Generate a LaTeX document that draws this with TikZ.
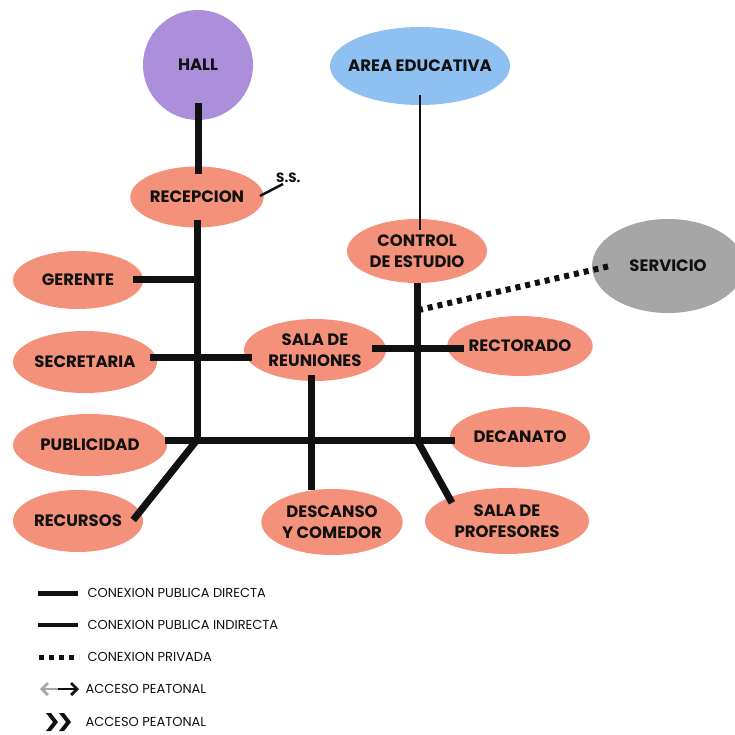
\documentclass[tikz,border=0pt]{standalone}
\usepackage{fontspec}
\setmainfont{Poppins}
\usetikzlibrary{calc,arrows.meta,shapes.geometric}
\definecolor{salmon}{HTML}{F4917A}
\definecolor{lila}{HTML}{AC8FDB}
\definecolor{celeste}{HTML}{8EC0F2}
\definecolor{gris}{HTML}{A6A6A6}
\definecolor{tinta}{HTML}{111111}

\begin{document}
\begin{tikzpicture}[x=1pt,y=1pt,
    espacio/.style={ellipse, fill=salmon, inner sep=0pt, align=center, text=tinta,
        font=\fontsize{16.5}{21}\selectfont\bfseries},
    directa/.style={line width=7pt, tinta},
    indirecta/.style={line width=2pt, tinta},
    privada/.style={line width=6pt, tinta, dash pattern=on 5pt off 5pt},
    leyenda/.style={anchor=west, text=tinta, font=\fontsize{13}{14}\selectfont}]
    % Marco de la figura
    \useasboundingbox (0,0) rectangle (735,734);

    % Espacios principales
    \node[circle, fill=lila, minimum size=110pt, inner sep=0pt, text=tinta,
        font=\fontsize{16.5}{21}\selectfont\bfseries] (hall) at (198,669) {HALL};
    \node[espacio, fill=celeste, inner xsep=-24pt, minimum width=180pt, minimum height=78pt] (area) at (420,668) {AREA EDUCATIVA};
    \node[espacio, fill=gris, minimum width=152pt, minimum height=94pt] (serv) at (668,468) {SERVICIO};

    % Espacios administrativos
    \node[espacio, minimum width=130pt, minimum height=61pt] (recep) at (197,537) {RECEPCION};
    \node[espacio, minimum width=130pt, minimum height=58pt] (ger) at (78,454) {GERENTE};
    \node[espacio, minimum width=144pt, minimum height=62pt] (sec) at (85,372) {SECRETARIA};
    \node[espacio, minimum width=154pt, minimum height=62pt] (pub) at (90,289) {PUBLICIDAD};
    \node[espacio, minimum width=130pt, minimum height=62pt] (recur) at (78,213) {RECURSOS};
    \node[espacio, minimum width=142pt, minimum height=62pt] (salaR) at (315,384) {SALA DE\\REUNIONES};
    \node[espacio, minimum width=140pt, minimum height=66pt] (desc) at (332,212) {DESCANSO\\Y COMEDOR};

    % Espacios educativos
    \node[espacio, minimum width=140pt, minimum height=64pt] (ctrl) at (417,483) {CONTROL\\DE ESTUDIO};
    \node[espacio, minimum width=144pt, minimum height=60pt] (rect) at (520,388) {RECTORADO};
    \node[espacio, minimum width=140pt, minimum height=60pt] (dec) at (520,297) {DECANATO};
    \node[espacio, minimum width=164pt, minimum height=66pt] (prof) at (507,213) {SALA DE\\PROFESORES};

    % Servicio sanitario
    \node[anchor=south west, inner sep=0pt, text=tinta,
        font=\fontsize{13.5}{14}\selectfont\bfseries] (ss) at (276,551) {S.S.};

    % Puntos de cruce
    \coordinate (j1) at (197,454);
    \coordinate (j3) at (197,294);
    \coordinate (j5) at (417,294);

    % Conexiones publicas directas
    \draw[directa] ($(hall.south)+(0,17)$) -- ($(recep.north)+(1,-8)$);
    \draw[directa] ($(recep.south)+(0,8)$) -- (j3);
    \draw[directa] ($(ger.east)+(-10,0)$) -- (j1);
    \draw[directa] ($(sec.east)+(-7,4)$) -- ($(salaR.west)+(8,-8)$);
    \draw[directa] ($(pub.east)+(-2,5)$) -- ($(dec.west)+(5,-3)$);
    \draw[directa] (j3) -- ($(recur.east)+(-10,1)$);
    \draw[directa] ($(salaR.south)+(-4,6)$) -- ($(desc.north)+(-21,-1)$);
    \draw[directa] (ctrl.south) -- (j5);
    \draw[directa] ($(salaR.east)+(-14,1)$) -- ($(rect.west)+(17,-3)$);
    \draw[directa] (j5) -- ($(prof.north)+(-55,-15)$);

    % Conexion indirecta y privada
    \draw[indirecta] ($(area.south)+(0,10)$) -- ($(ctrl.north)+(3,-11)$);
    \draw[line width=2.5pt, tinta] ($(recep.east)+(-4,1)$) -- ($(ss.south west)+(7,-1)$);
    \draw[privada] ($(ctrl.south)+(1,-27)$) -- ($(serv.west)+(18,0)$);

    % Leyenda
    \draw[line width=5pt, tinta] (38,141) -- (78,141);
    \node[leyenda] (l1) at (84,141) {CONEXION PUBLICA DIRECTA};
    \draw[line width=3.5pt, tinta] (38,109) -- (78,109);
    \node[leyenda] (l2) at (84,109) {CONEXION PUBLICA INDIRECTA};
    \draw[line width=5pt, tinta, dash pattern=on 5pt off 5pt] (39,77) -- (79,77);
    \node[leyenda] (l3) at (84,77) {CONEXION PRIVADA};
    \draw[line width=2.8pt, gris, {Straight Barb[length=6pt,width=12pt]}-] (40,45) -- (58,45);
    \draw[line width=2.8pt, tinta, -{Straight Barb[length=6pt,width=12pt]}] (58,45) -- (79,45);
    \node[leyenda] (l4) at (82,45) {ACCESO PEATONAL};
    \foreach \x in {46,59}
        \fill[tinta] (\x,21) -- (\x+5,21) -- (\x+12,12) -- (\x+5,3) -- (\x,3) -- (\x+7,12) -- cycle;
    \node[leyenda] (l5) at (82,12) {ACCESO PEATONAL};
\end{tikzpicture}
\end{document}
